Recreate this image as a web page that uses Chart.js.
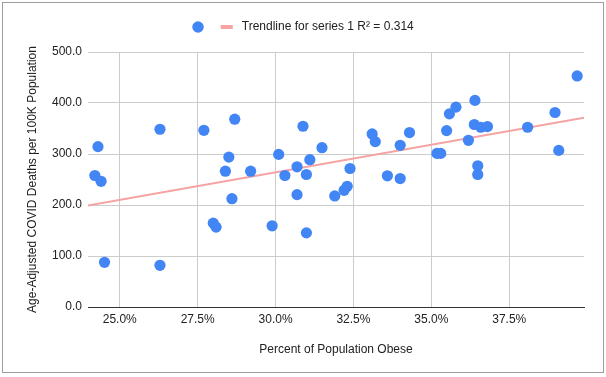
<!DOCTYPE html>
<html>
<head>
<meta charset="utf-8">
<script src="https://cdn.jsdelivr.net/npm/chart.js@4"></script>
<style>
  body { margin: 0; background: #fff; }
  #wrap { position: relative; width: 606px; height: 377px; }
  #frame {
    position: absolute; left: 2px; top: 2px; width: 602px; height: 371px;
    box-sizing: border-box; border: 1px solid #9e9e9e; pointer-events: none;
  }
</style>
</head>
<body>
<div id="wrap">
  <canvas id="myChart" width="606" height="377"></canvas>
  <div id="frame"></div>
</div>
<script>
// percent obese per state (x) and age-adjusted covid deaths per 100k (y)
const obesity = [24.30, 24.20, 24.40, 24.51, 26.29, 26.29, 27.70, 28.69, 28.50, 28.39,
  29.20, 28.60, 28.00, 28.09, 30.10, 30.88, 30.69, 30.30, 30.99, 31.10,
  31.49, 30.69, 29.89, 30.99, 31.90, 32.20, 32.30, 32.39, 33.10, 33.20,
  33.59, 34.00, 34.00, 34.30, 35.18, 35.30, 35.49, 35.58, 35.79, 36.40,
  36.19, 36.38, 36.59, 36.80, 36.49, 36.49, 38.09, 38.97, 39.09, 39.68];
const deaths = [314.4, 257.8, 246.5, 87.6, 348.5, 81.7, 346.5, 368.2, 293.9, 266.3,
  266.3, 212.4, 164.5, 156.6, 299.2, 354.4, 274.9, 257.8, 259.8, 288.8,
  312.4, 220.3, 159.2, 145.4, 217.8, 228.8, 236.7, 271.6, 339.3, 324.3,
  257.2, 251.9, 317.0, 342.0, 301.2, 301.2, 345.9, 378.7, 391.9, 405.1,
  326.8, 357.8, 352.5, 353.8, 276.9, 259.8, 352.5, 381.4, 307.1, 453.1];

const xTicks = [25, 27.5, 30, 32.5, 35, 37.5];
const yTicks = [0, 100, 200, 300, 400, 500];
const xRange = [23.98, 39.9];

const trendLabel = 'Trendline for series 1 R² = 0.314';
const xTitle = 'Percent of Population Obese';
const yTitle = 'Age-Adjusted COVID Deaths per 100K Population';

const blue = '#4285f4';
const pink = '#f5a3a3';
const textColor = '#222222';
const fontFamily = '"Liberation Sans", Arial, sans-serif';

function linearFit(xs, ys) {
  const n = xs.length;
  let sx = 0, sy = 0, sxx = 0, sxy = 0;
  for (let i = 0; i < n; i++) {
    sx += xs[i]; sy += ys[i];
    sxx += xs[i] * xs[i]; sxy += xs[i] * ys[i];
  }
  const slope = (n * sxy - sx * sy) / (n * sxx - sx * sx);
  const intercept = (sy - slope * sx) / n;
  return { slope, intercept };
}

const fit = linearFit(obesity, deaths);
const trendPoints = xRange.map(x => ({ x: x, y: fit.intercept + fit.slope * x }));

// legend like the sheets one: dot, then pink dash with label
const sheetLegend = {
  id: 'sheetLegend',
  afterDraw(chart) {
    const ctx = chart.ctx;
    ctx.save();
    ctx.font = '12px ' + fontFamily;
    const tw = ctx.measureText(trendLabel).width;
    const total = 11.5 + 17 + 12 + 9 + tw;
    let x = (chart.width - total) / 2;
    const y = 27;
    ctx.fillStyle = blue;
    ctx.beginPath();
    ctx.arc(x + 5.75, y, 5.75, 0, Math.PI * 2);
    ctx.fill();
    x += 11.5 + 17;
    ctx.fillStyle = pink;
    ctx.fillRect(x, y - 2, 12, 4);
    x += 12 + 9;
    ctx.fillStyle = textColor;
    ctx.textBaseline = 'middle';
    ctx.fillText(trendLabel, x, y);
    ctx.restore();
  }
};

const ctx = document.getElementById('myChart').getContext('2d');

new Chart(ctx, {
  type: 'scatter',
  data: {
    datasets: [
      {
        label: '',
        data: obesity.map((x, i) => ({ x: x, y: deaths[i] })),
        backgroundColor: blue,
        borderWidth: 0,
        pointRadius: 5.6,
        pointHoverRadius: 5.6,
        order: 1
      },
      {
        type: 'line',
        label: trendLabel,
        data: trendPoints,
        borderColor: pink,
        borderWidth: 2,
        pointRadius: 0,
        fill: false,
        order: 2
      }
    ]
  },
  options: {
    responsive: false,
    animation: false,
    layout: { padding: { top: 52, right: 22, left: 0, bottom: 0 } },
    plugins: {
      legend: { display: false },
      tooltip: { enabled: false }
    },
    scales: {
      x: {
        type: 'linear',
        min: xRange[0],
        max: xRange[1],
        afterBuildTicks: s => { s.ticks = xTicks.map(v => ({ value: v })); },
        afterFit: s => { s.height = 70; },
        ticks: {
          callback: v => v.toFixed(1) + '%',
          color: textColor,
          font: { family: fontFamily, size: 12 },
          padding: 5,
          maxRotation: 0,
          autoSkip: false
        },
        grid: { color: '#cccccc', drawTicks: false },
        border: { color: '#333333', width: 1 },
        title: {
          display: true,
          text: xTitle,
          color: textColor,
          font: { family: fontFamily, size: 12 },
          padding: { top: 0, bottom: 20 }
        }
      },
      y: {
        min: 0,
        max: 500,
        afterBuildTicks: s => { s.ticks = yTicks.map(v => ({ value: v })); },
        afterFit: s => { s.width = 88; },
        ticks: {
          callback: v => v.toFixed(1),
          color: textColor,
          font: { family: fontFamily, size: 12 },
          padding: 6
        },
        grid: { color: '#cccccc', drawTicks: false },
        border: { display: false },
        title: {
          display: true,
          text: yTitle,
          color: textColor,
          font: { family: fontFamily, size: 12 },
          padding: { top: 25, bottom: 0 }
        }
      }
    }
  },
  plugins: [sheetLegend]
});
</script>
</body>
</html>
